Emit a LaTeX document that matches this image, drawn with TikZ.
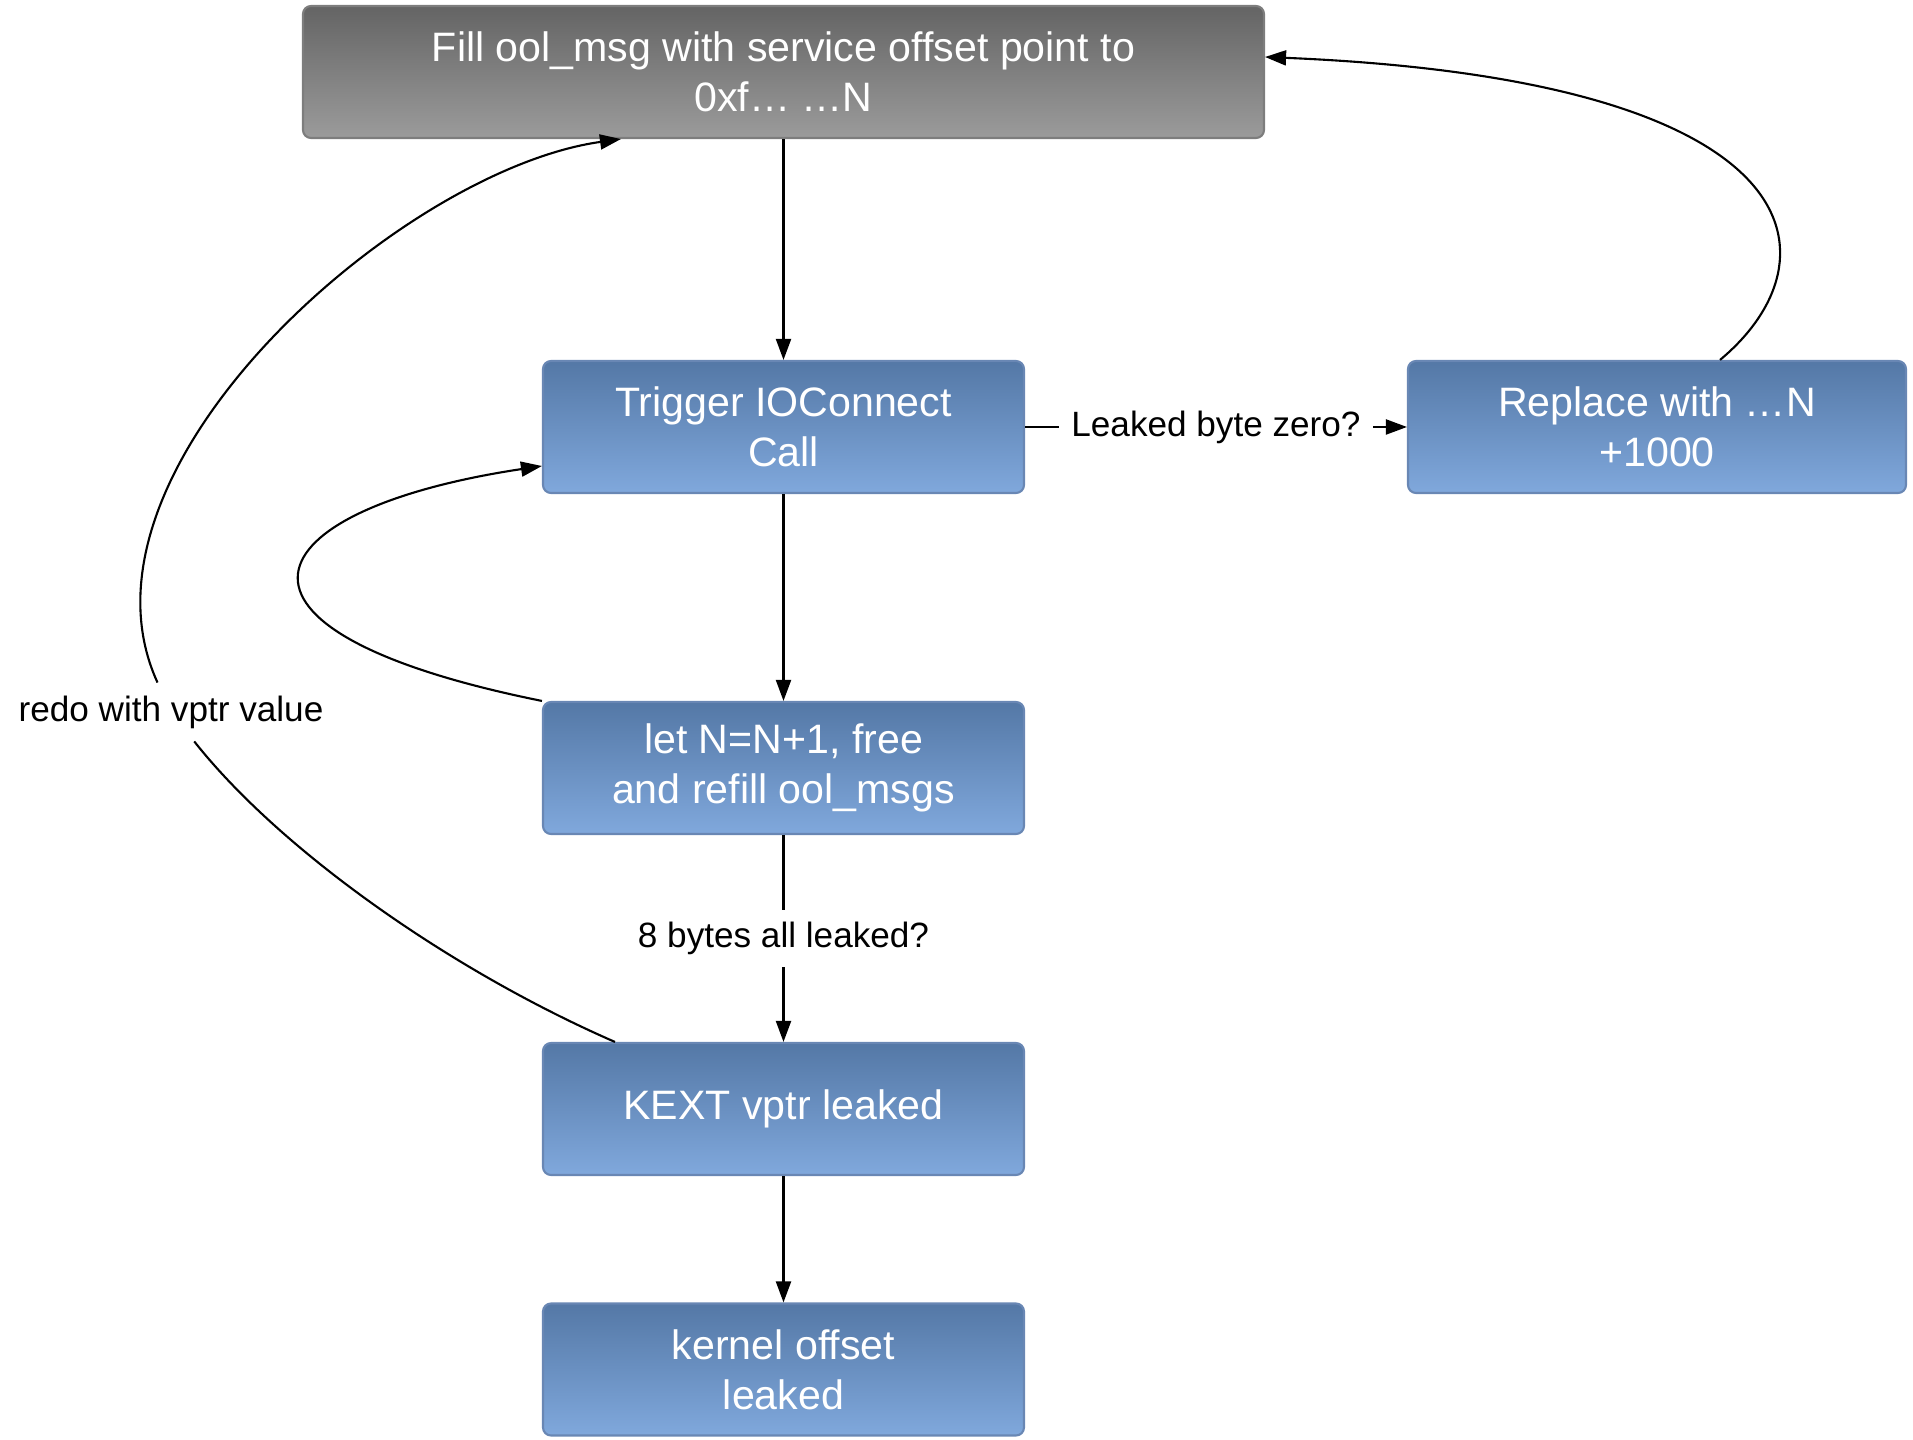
\documentclass[tikz,border=0pt]{standalone}
\usepackage{fontspec}
\setmainfont{Liberation Sans}
\usetikzlibrary{arrows.meta}
\usepackage{xcolor}

\definecolor{boxtop}{RGB}{84,120,166}
\definecolor{boxbot}{RGB}{128,168,220}
\definecolor{boxline}{RGB}{105,135,180}
\definecolor{greytop}{RGB}{100,100,100}
\definecolor{greybot}{RGB}{155,155,155}
\definecolor{greyline}{RGB}{125,125,125}

\tikzset{
  bluebox/.style={draw=boxline, line width=0.6pt, top color=boxtop, bottom color=boxbot,
    rounded corners=0.08cm, minimum width=4.81cm, minimum height=1.32cm,
    text=white, align=center, font=\fontsize{11.7}{14.2}\selectfont},
  greybox/.style={bluebox, draw=greyline, top color=greytop, bottom color=greybot},
  lbl/.style={fill=white, inner sep=0.12cm, font=\fontsize{10}{12}\selectfont},
}

\begin{document}
\begin{tikzpicture}[>={Triangle[length=0.21cm,width=0.15cm]}, line width=0.6pt]
  \useasboundingbox (0,0) rectangle (19.13,14.40);

  \node[greybox, minimum width=9.61cm] (Fill) at (7.835,13.68) {Fill ool\_msg with service offset point to\\0xf… …N};
  \node[bluebox] (Trig) at (7.835,10.13) {Trigger IOConnect\\Call};
  \node[bluebox, minimum width=4.98cm] (Repl) at (16.57,10.13) {Replace with …N\\+1000};
  \node[bluebox] (LetN) at (7.835,6.72) {let N=N+1, free\\and refill ool\_msgs};
  \node[bluebox] (Kext) at (7.835,3.31) {KEXT vptr leaked};
  \node[bluebox] (Kern) at (7.835,0.705) {kernel offset\\leaked};

  \node[lbl, fill=none] (Redo) at (1.71,7.28) {redo with vptr value};

  % straight flow
  \draw[->] (Fill) to (Trig);
  \draw[->] (Trig) to (LetN);
  \draw[->] (LetN) to node[lbl] {8 bytes all leaked?} (Kext);
  \draw[->] (Kext) to (Kern);
  \draw[->] (Trig) to node[lbl] {Leaked byte zero?} (Repl);

  % loops back
  \draw[->] (LetN.north west) .. controls (1.9,8.1) and (2.5,9.3) .. ([yshift=-0.39cm]Trig.west);
  \draw[->] ([xshift=0.63cm]Repl.north) .. controls (18.4,11.8) and (18.2,13.6) .. ([yshift=0.15cm]Fill.east);
  \draw ([xshift=0.73cm]Kext.north west) .. controls (4.5,4.7) and (2.8,5.9) .. (Redo);
  \draw[->] (Redo) .. controls (0.6,9.7) and (4.0,12.7) .. ([xshift=3.19cm]Fill.south west);

\end{tikzpicture}
\end{document}
